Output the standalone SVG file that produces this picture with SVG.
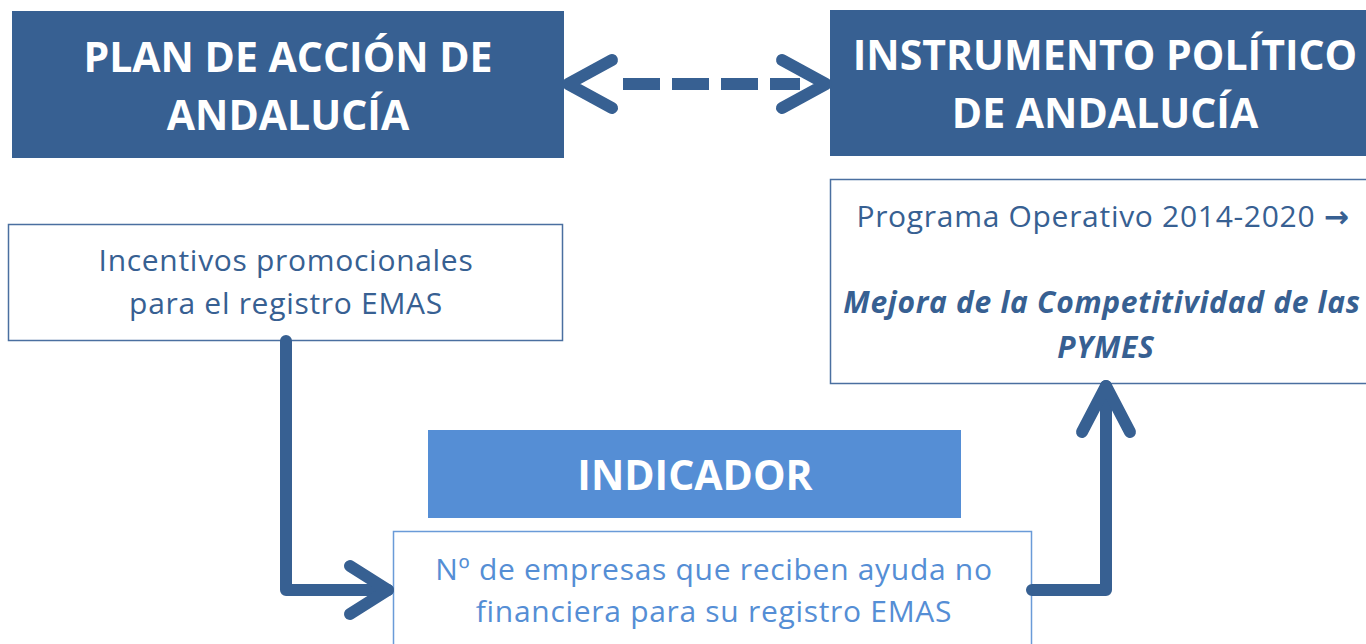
<svg xmlns="http://www.w3.org/2000/svg" width="1366" height="644" viewBox="0 0 1366 644">
<style>
.dark{fill:#376092}
.hd{font-family:"Open Sans","Liberation Sans",sans-serif;font-weight:bold;font-size:41px;fill:#fff;text-anchor:middle}
.tx{font-family:"Open Sans","Liberation Sans",sans-serif;font-size:30px;letter-spacing:0.7px;fill:#376092;text-anchor:middle}
.lt{fill:#558ed5}
.conn{fill:none;stroke:#376092;stroke-width:12;stroke-linecap:round;stroke-linejoin:round}
.dash{fill:none;stroke:#376092;stroke-width:12;stroke-linecap:butt;stroke-dasharray:37 12}
</style>
<rect width="1366" height="644" fill="#fff"/>
<g id="plan">
<rect x="12" y="11" width="552" height="147" class="dark"/>
<text class="hd" x="288" y="72">PLAN DE ACCIÓN DE</text>
<text class="hd" x="288" y="130">ANDALUCÍA</text>
</g>
<g id="instrumento">
<rect x="830" y="10" width="540" height="146" class="dark"/>
<text class="hd" x="1105" y="70">INSTRUMENTO POLÍTICO</text>
<text class="hd" x="1105" y="128">DE ANDALUCÍA</text>
</g>
<g id="incentivos">
<rect x="8.5" y="224.5" width="554" height="116" fill="#fff" stroke="#4a6fa0" stroke-width="1.5"/>
<text class="tx" x="286" y="271">Incentivos promocionales</text>
<text class="tx" x="286" y="314">para el registro EMAS</text>
</g>
<g id="programa">
<rect x="830.5" y="179.5" width="540" height="204" fill="#fff" stroke="#4a6fa0" stroke-width="1.5"/>
<text class="tx" x="1103" y="227">Programa Operativo 2014-2020 <tspan font-family="DejaVu Sans, sans-serif" font-weight="bold" font-size="30">→</tspan></text>
<text class="tx" x="1102" y="313" font-weight="bold" font-style="italic">Mejora de la Competitividad de las</text>
<text class="tx" x="1106" y="358" font-weight="bold" font-style="italic">PYMES</text>
</g>
<g id="indicador">
<rect x="428" y="430" width="533" height="88" fill="#558ed5"/>
<text class="hd" x="695" y="490">INDICADOR</text>
</g>
<g id="numero">
<rect x="393.5" y="531.5" width="638" height="120" fill="#fff" stroke="#6a9bd8" stroke-width="1.5"/>
<text class="tx lt" x="714" y="580">Nº de empresas que reciben ayuda no</text>
<text class="tx lt" x="714" y="622">financiera para su registro EMAS</text>
</g>
<g id="connectors">
<path class="conn" d="M286 341 V590 H388"/>
<path class="conn" d="M350 566 L388 590 L350 614"/>
<path class="conn" d="M1032 590 H1106 V386"/>
<path class="conn" d="M1082 432 L1106 386 L1130 432"/>
<path class="dash" d="M623 84 H800"/>
<path class="conn" d="M612 60 L568 84 L612 108"/>
<path class="conn" d="M782 60 L826 84 L782 108"/>
</g>
</svg>
